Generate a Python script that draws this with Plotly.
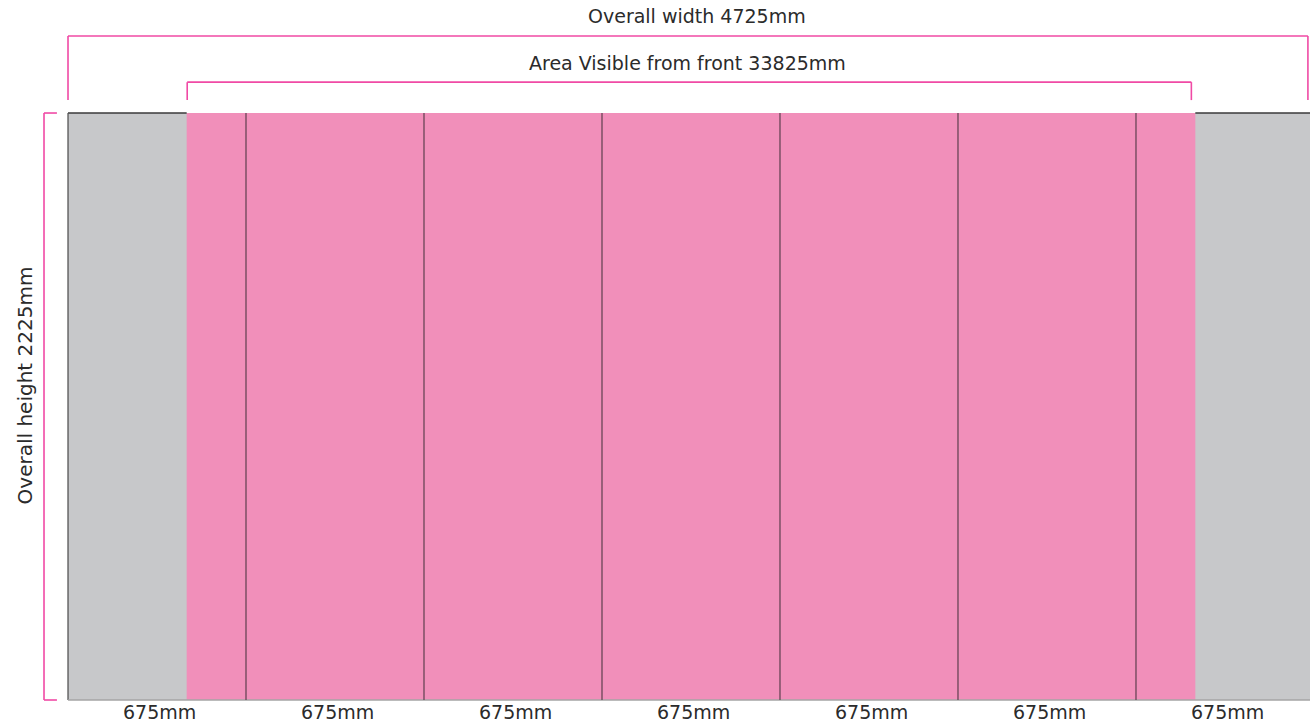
import plotly.graph_objects as go

# ---- data (millimetres) ----
panel_widths = [675, 675, 675, 675, 675, 675, 675]
panel_labels = ["675mm"] * 7
overall_width = 4725
overall_height = 2225
visible_width = 3825
title_width = "Overall width 4725mm"
title_visible = "Area Visible from front 33825mm"
title_height = "Overall height 2225mm"

# ---- styles ----
PINK_FILL = "#f18fba"
GREY_FILL = "#c7c8ca"
BRACKET = "#f04aa5"
TEXT = "#2b2b2b"
FONT = "DejaVu Sans, sans-serif"

# derived positions
edges = [0]
for w in panel_widths:
    edges.append(edges[-1] + w)
centers = [(edges[i] + edges[i + 1]) / 2 for i in range(len(panel_widths))]
vis_left = (overall_width - visible_width) / 2
vis_right = vis_left + visible_width

fig = go.Figure()

shapes = []
# grey board
shapes.append(dict(type="rect", xref="x", yref="y", x0=0, x1=overall_width, y0=0, y1=overall_height,
                   fillcolor=GREY_FILL, line=dict(width=0), layer="below"))
# pink visible area
shapes.append(dict(type="rect", xref="x", yref="y", x0=vis_left, x1=vis_right, y0=0, y1=overall_height,
                   fillcolor=PINK_FILL, line=dict(width=0), layer="below"))
# board outline
shapes.append(dict(type="line", xref="x", yref="y", x0=0, x1=vis_left, y0=overall_height, y1=overall_height,
                   line=dict(color="#3a3a3a", width=1.5)))
shapes.append(dict(type="line", xref="x", yref="y", x0=vis_right, x1=overall_width, y0=overall_height, y1=overall_height,
                   line=dict(color="#3a3a3a", width=1.5)))
shapes.append(dict(type="line", xref="x", yref="y", x0=0, x1=0, y0=0, y1=overall_height,
                   line=dict(color="#555555", width=1.3)))
shapes.append(dict(type="line", xref="x", yref="y", x0=0, x1=overall_width, y0=0, y1=0,
                   line=dict(color="#a5a5a5", width=1.3)))
# panel dividers inside visible area
for e in edges[1:-1]:
    if vis_left < e < vis_right:
        shapes.append(dict(type="line", xref="x", yref="y", x0=e, x1=e, y0=0, y1=overall_height,
                           line=dict(color="#5e3f4e", width=1.2)))

# brackets
top_y = overall_height + 292
vis_y = overall_height + 117
drop_y = overall_height + 49
bw = 1.6
right_end = overall_width - 23
shapes += [
    dict(type="line", xref="x", yref="y", x0=0, x1=right_end, y0=top_y, y1=top_y, line=dict(color=BRACKET, width=bw)),
    dict(type="line", xref="x", yref="y", x0=0, x1=0, y0=drop_y, y1=top_y, line=dict(color=BRACKET, width=bw)),
    dict(type="line", xref="x", yref="y", x0=right_end, x1=right_end, y0=drop_y, y1=top_y, line=dict(color=BRACKET, width=bw)),
    dict(type="line", xref="x", yref="y", x0=vis_left + 2, x1=vis_right - 15, y0=vis_y, y1=vis_y, line=dict(color=BRACKET, width=bw)),
    dict(type="line", xref="x", yref="y", x0=vis_left + 2, x1=vis_left + 2, y0=drop_y, y1=vis_y, line=dict(color=BRACKET, width=bw)),
    dict(type="line", xref="x", yref="y", x0=vis_right - 15, x1=vis_right - 15, y0=drop_y, y1=vis_y, line=dict(color=BRACKET, width=bw)),
    dict(type="line", xref="x", yref="y", x0=-91, x1=-91, y0=0, y1=overall_height, line=dict(color=BRACKET, width=bw)),
    dict(type="line", xref="x", yref="y", x0=-91, x1=-42, y0=0, y1=0, line=dict(color=BRACKET, width=bw)),
    dict(type="line", xref="x", yref="y", x0=-91, x1=-42, y0=overall_height, y1=overall_height, line=dict(color=BRACKET, width=bw)),
]

annotations = [
    dict(x=(right_end) / 2 + 35, y=overall_height + 368, xref="x", yref="y", text=title_width, showarrow=False,
         font=dict(size=19, color=TEXT, family=FONT)),
    dict(x=(vis_left + vis_right) / 2 - 15, y=overall_height + 190, xref="x", yref="y", text=title_visible, showarrow=False,
         font=dict(size=19, color=TEXT, family=FONT)),
    dict(x=-163, y=overall_height / 2 + 80, xref="x", yref="y", text=title_height, showarrow=False, textangle=-90,
         font=dict(size=20, color=TEXT, family=FONT)),
]
for c, lab in zip(centers, panel_labels):
    annotations.append(dict(x=c + 10, y=-47, xref="x", yref="y", text=lab, showarrow=False,
                            font=dict(size=19, color=TEXT, family=FONT)))

# invisible trace so axes are active
fig.add_trace(go.Scatter(x=[0, overall_width], y=[0, overall_height], mode="markers",
                         marker=dict(opacity=0), hoverinfo="skip", showlegend=False))

fig.update_layout(
    width=1310, height=723,
    margin=dict(l=0, r=0, t=0, b=0),
    paper_bgcolor="white", plot_bgcolor="white",
    shapes=shapes, annotations=annotations,
    xaxis=dict(range=[-257.9, 4709.9], visible=False, fixedrange=True),
    yaxis=dict(range=[-87.2, 2653.4], visible=False, fixedrange=True),
    showlegend=False,
)

fig.write_html("out.html", config={"displayModeBar": False},
               post_script="document.body.style.margin='0';document.body.style.overflow='hidden';")
